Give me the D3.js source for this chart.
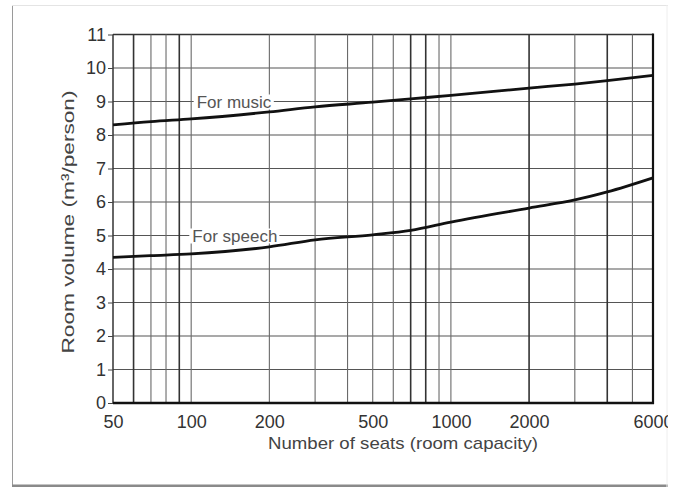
<!DOCTYPE html>
<html lang="en">
<head>
	<meta charset="UTF-8">
	<title>Room volume per person</title>
	<script src="https://d3js.org/d3.v7.min.js"></script>
	<style>
		body { margin: 0; background: #fff; }
		text { font-family: "Liberation Sans", Arial, sans-serif; }
	</style>
</head>
<body>
	<script>
		// seats (log axis) and the two curves
		var seats  = [50, 70, 100, 200, 300, 500, 700, 1000, 2000, 3000, 4000, 6000];
		var music  = [8.30, 8.40, 8.48, 8.69, 8.84, 8.98, 9.08, 9.18, 9.40, 9.52, 9.62, 9.78];
		var speech = [4.35, 4.40, 4.45, 4.66, 4.87, 5.02, 5.15, 5.40, 5.82, 6.06, 6.30, 6.72];

		var xTicks = [50, 100, 200, 500, 1000, 2000, 6000];
		var xGrid  = [60, 70, 80, 90, 100, 200, 300, 400, 500, 600, 700, 800, 900, 1000, 2000, 3000, 4000, 5000];
		var yTicks = [0, 1, 2, 3, 4, 5, 6, 7, 8, 9, 10, 11];

		var w = 675, h = 488;
		var heavy = [60, 90, 700, 800, 2000, 4000];

		var svg = d3.select("body").append("svg")
			.attr("width", w)
			.attr("height", h);

		svg.append("defs").append("clipPath").attr("id", "frame")
			.append("rect").attr("x", 12).attr("y", 5).attr("width", 656).attr("height", 482);

		var g = svg.append("g").attr("clip-path", "url(#frame)");

		// outer picture frame
		g.append("line").attr("x1", 12).attr("x2", 12).attr("y1", 5).attr("y2", 487)
			.attr("stroke", "#9a9a9a").attr("stroke-width", 2);
		g.append("line").attr("x1", 12).attr("x2", 668).attr("y1", 486).attr("y2", 486)
			.attr("stroke", "#8a8a8a").attr("stroke-width", 3);
		g.append("line").attr("x1", 12).attr("x2", 668).attr("y1", 5).attr("y2", 5)
			.attr("stroke", "#e4e4e4").attr("stroke-width", 2);
		g.append("line").attr("x1", 667).attr("x2", 667).attr("y1", 5).attr("y2", 487)
			.attr("stroke", "#eeeeee").attr("stroke-width", 1);

		var x = d3.scaleLog().domain([50, 6000]).range([113, 653]);
		var y = d3.scaleLinear().domain([0, 11]).range([403, 34.5]);

		// grid
		g.selectAll(".hgrid").data(yTicks.slice(1)).enter().append("line")
			.attr("class", "hgrid")
			.attr("x1", x(50)).attr("x2", x(6000))
			.attr("y1", function(d){ return y(d); })
			.attr("y2", function(d){ return y(d); })
			.attr("stroke", function(d){ return d == 11 ? "#333" : "#555"; })
			.attr("stroke-width", function(d){ return d == 11 ? 1.6 : 1.2; });

		g.selectAll(".vgrid").data(xGrid).enter().append("line")
			.attr("class", "vgrid")
			.attr("x1", function(d){ return x(d); })
			.attr("x2", function(d){ return x(d); })
			.attr("y1", y(11)).attr("y2", y(0))
			.attr("stroke", function(d){ return heavy.indexOf(d) >= 0 ? "#333" : "#6a6a6a"; })
			.attr("stroke-width", function(d){ return heavy.indexOf(d) >= 0 ? 1.6 : 1.1; });

		// plot frame
		g.append("line").attr("x1", x(50)).attr("x2", x(50)).attr("y1", y(11)).attr("y2", y(0))
			.attr("stroke", "#333").attr("stroke-width", 1.5);
		g.append("line").attr("x1", x(6000)).attr("x2", x(6000)).attr("y1", y(11) - 1).attr("y2", y(0) + 1)
			.attr("stroke", "#111").attr("stroke-width", 2.2);
		g.append("line").attr("x1", x(50)).attr("x2", x(6000) + 1).attr("y1", y(0)).attr("y2", y(0))
			.attr("stroke", "#111").attr("stroke-width", 2.5);

		// axes
		var xAxis = d3.axisBottom(x).tickValues(xTicks).tickSize(0).tickPadding(12)
			.tickFormat(d3.format("d"));
		var ax = g.append("g").attr("transform", "translate(0," + y(0) + ")").call(xAxis);
		ax.select(".domain").remove();
		ax.selectAll("text").attr("font-size", 18).attr("fill", "#333")
			.attr("font-family", "Liberation Sans, Arial, sans-serif");

		var yAxis = d3.axisLeft(y).tickValues(yTicks).tickSize(5).tickPadding(2);
		var ay = g.append("g").attr("transform", "translate(" + x(50) + ",0)").call(yAxis);
		ay.select(".domain").remove();
		ay.selectAll("line").attr("stroke", "#444");
		ay.selectAll("text").attr("font-size", 18).attr("fill", "#333")
			.attr("font-family", "Liberation Sans, Arial, sans-serif");

		// curves
		var line = d3.line()
			.x(function(d){ return x(d[0]); })
			.y(function(d){ return y(d[1]); })
			.curve(d3.curveMonotoneX);

		[music, speech].forEach(function(s){
			g.append("path")
				.datum(seats.map(function(v, i){ return [v, s[i]]; }))
				.attr("d", line)
				.attr("fill", "none")
				.attr("stroke", "#111")
				.attr("stroke-width", 2.8);
		});

		// curve labels sitting on a gridline
		function label(txt, sx, val){
			var t = g.append("text")
				.attr("x", x(sx)).attr("y", y(val) + 6)
				.attr("font-size", 17).attr("fill", "#555")
				.text(txt);
			var b = t.node().getBBox();
			g.insert("rect", function(){ return t.node(); })
				.attr("x", b.x - 3).attr("y", b.y + 2)
				.attr("width", b.width + 5).attr("height", b.height - 4)
				.attr("fill", "#fff");
		}
		label("For music", 105, 9);
		label("For speech", 101, 5);

		// titles
		g.append("text")
			.attr("x", 403).attr("y", 449)
			.attr("text-anchor", "middle")
			.attr("font-size", 17).attr("fill", "#444")
			.attr("textLength", 270).attr("lengthAdjust", "spacingAndGlyphs")
			.text("Number of seats (room capacity)");

		g.append("text")
			.attr("transform", "translate(74,222) rotate(-90)")
			.attr("text-anchor", "middle")
			.attr("font-size", 17).attr("fill", "#444")
			.attr("textLength", 263).attr("lengthAdjust", "spacingAndGlyphs")
			.text("Room volume (m³/person)");
	</script>
</body>
</html>
